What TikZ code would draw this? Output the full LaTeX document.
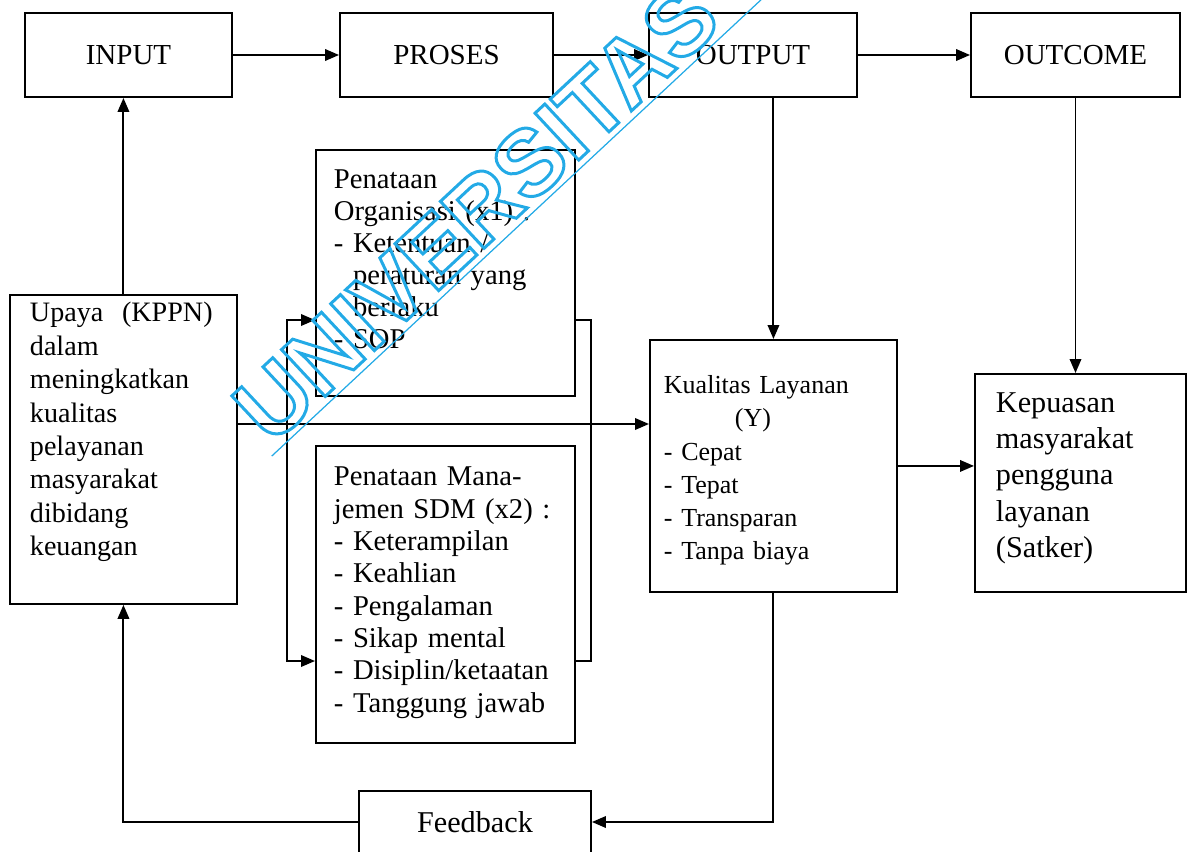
\documentclass[tikz,border=0pt]{standalone}
\usepackage{fontspec}
\setmainfont{Liberation Serif}[WordSpace=0.75]
\newfontfamily\wmfont{Liberation Sans}
\usetikzlibrary{arrows.meta}

\begin{document}
\begin{tikzpicture}[x=0.02cm, y=-0.02cm, line width=1.1pt,
    >={Triangle[length=2.8mm,width=2.3mm]},
    huruf/.style 2 args={font=\fontsize{#1}{#2}\selectfont},
    tahap/.style={draw, minimum height=1.68cm, huruf={16.5}{19}},
    kotak/.style={draw, anchor=north west, align=left, inner ysep=0pt},
]

\definecolor{airbiru}{RGB}{35,170,230}

\useasboundingbox (0,0) rectangle (1187,852);

% ---------- baris atas: input - proses - output - outcome ----------
\foreach \nama/\teks/\x/\w in {input/INPUT/128.5/4.14, proses/PROSES/446.5/4.26, output/OUTPUT/753/4.16, outcome/OUTCOME/1075.5/4.18}
  \node[tahap, minimum width=\w cm] (\nama) at (\x,55) {\teks};

% ---------- kotak isi ----------
\node[kotak, huruf={16}{19}, text width=3.74cm, inner xsep=0.4cm, text height=0.54cm, text depth=5.64cm] (upaya) at (9,294)
  {Upaya~~(KPPN)\\dalam\\meningkatkan\\kualitas\\pelayanan\\masyarakat\\dibidang\\keuangan};

\node[kotak, huruf={16.3}{18.2}, text width=4.46cm, inner xsep=0.36cm, text height=0.78cm, text depth=4.14cm] (org) at (315,149)
  {Penataan\\Organisasi (x1) :\\- Ketentuan /\\\phantom{- }peraturan yang\\\phantom{- }berlaku\\- SOP};

\node[kotak, huruf={16.3}{18.4}, text width=4.46cm, inner xsep=0.36cm, text height=0.8cm, text depth=5.14cm] (sdm) at (315,445)
  {Penataan Mana-\\jemen SDM (x2) :\\- Keterampilan\\- Keahlian\\- Pengalaman\\- Sikap mental\\- Disiplin/ketaatan\\- Tanggung jawab};

\node[kotak, huruf={14.8}{18.8}, text width=4.38cm, inner xsep=0.28cm, text height=1.08cm, text depth=3.96cm] (kualitas) at (649,339)
  {Kualitas Layanan\\\hspace*{1.42cm}(Y)\\- Cepat\\- Tepat\\- Transparan\\- Tanpa biaya};

\node[kotak, huruf={17.2}{20.5}, text width=3.38cm, inner xsep=0.42cm, text height=0.78cm, text depth=3.58cm] (kepuasan) at (974,373)
  {Kepuasan\\masyarakat\\pengguna\\layanan\\(Satker)};

\node[draw, huruf={17.2}{20}, minimum width=4.64cm, minimum height=1.24cm] (feedback) at (475,822) {Feedback};

% ---------- titik bantu ----------
\coordinate (jalur) at (0,424);
\coordinate (kiriA) at (287,320);  \coordinate (kiriB) at (287,661);
\coordinate (kananA) at (591,320); \coordinate (kananB) at (591,661);

% ---------- panah ----------
\draw[->] (input) -- (proses);
\draw[->] (proses) -- (output);
\draw[->] (output) -- (outcome);
\draw[->] (upaya.north) -- (upaya.north |- input.south);
\draw[->] (kualitas.north |- output.south) -- (kualitas.north);
\draw[->] (outcome.south) -- (outcome.south |- kepuasan.north);
\draw[->] (upaya.east |- jalur) -- (kualitas.west |- jalur);
\draw[<->] (kiriA -| org.west) -- (kiriA) -- (kiriB) -- (kiriB -| sdm.west);
\draw (kananA -| org.east) -- (kananA) -- (kananB) -- (kananB -| sdm.east);
\draw[->] (kualitas.east) -- (kualitas.east -| kepuasan.west);
\draw[->] (kualitas.south) |- (feedback.east);
\draw[->] (feedback.west) -| (upaya.south);

% ---------- tanda air (huruf berongga) ----------
\node[rotate=43, inner sep=3pt, text=airbiru, font=\wmfont\bfseries\fontsize{53}{53}\selectfont] (tanda) at (476,212)
  {\special{pdf:literal direct 1 Tr 1.7 w}UNIVERSITAS\special{pdf:literal direct 0 Tr}};
\draw[airbiru, line width=0.7pt, shorten >=-2cm] (tanda.south west) -- (tanda.south east);

\end{tikzpicture}
\end{document}
